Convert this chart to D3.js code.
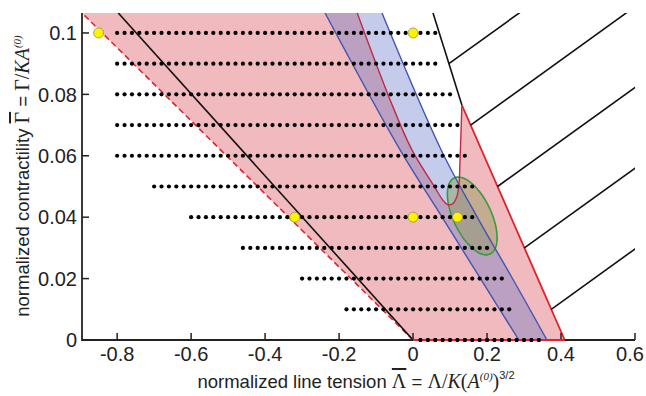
<!DOCTYPE html>
<html>
<head>
<meta charset="utf-8">
<script src="https://cdnjs.cloudflare.com/ajax/libs/d3/7.8.5/d3.min.js"></script>
<style>
body{margin:0;background:#fff;}
text{font-family:Arial,"Liberation Sans",sans-serif;fill:#222;}
.serif{font-family:"Liberation Serif","Times New Roman",serif;}
.bar{text-decoration:overline;}
</style>
</head>
<body>
<script>
// ---- data ----
var xTicks=[-0.8,-0.6,-0.4,-0.2,0,0.2,0.4,0.6];
var yTicks=[0,0.02,0.04,0.06,0.08,0.1];
var yTickLabels=['0','0.02','0.04','0.06','0.08','0.1'];

// sampled points on rows of constant contractility
var rowGamma=[0.1,0.09,0.08,0.07,0.06,0.05,0.04,0.03,0.02,0.01,0];
var rowStart=[-0.8,-0.8,-0.8,-0.8,-0.8,-0.7,-0.6,-0.46,-0.3,-0.18,0.02];
var rowEnd=[0.06,0.06,0.1,0.12,0.14,0.16,0.16,0.2,0.24,0.26,0.34];
var dotStep=0.02;

var yellowLambda=[-0.85,0,-0.32,0,0.12];
var yellowGamma=[0.1,0.1,0.04,0.04,0.04];

// lines through origin
var dashedLambda=[0,-0.895], dashedGamma=[0,0.1065];
var blackLambda=[0,-0.797], blackGamma=[0,0.1065];

// blue band edges
var blueLeftLambda=[-0.238,-0.035,0.078,0.181,0.286];
var blueLeftGamma=[0.1065,0.0619,0.0401,0.0202,0];
var blueRightLambda=[-0.084,0.076,0.173,0.268,0.362];
var blueRightGamma=[0.1065,0.0619,0.0401,0.0202,0];

// dark red curve (upper right edge of pink region)
var curveLambda=[-0.151,-0.062,-0.003,0.06,0.079,0.092,0.106,0.118,0.124,0.127,0.132];
var curveGamma=[0.1065,0.0782,0.0619,0.0495,0.0458,0.0442,0.0443,0.0466,0.0505,0.0586,0.0765];

// right boundary (black top part, red lower part)
var boundLambda=[0.054,0.132,0.41];
var boundGamma=[0.1065,0.0765,0];

// diagonal lines leaving the boundary
var hatchGamma=[0.09,0.07,0.05,0.03,0.01];
var hatchSlope=0.0868;

// ellipse: centre and semi-axis vectors (data units)
var ellCenter=[0.16,0.0404];
var ellMajor=[0.0486,-0.0124];
var ellMinor=[0.0465,0.00264];

// ---- layout ----
var W=646,H=396;
var x=d3.scaleLinear().domain([-0.895,0.6]).range([82,635]);
var y=d3.scaleLinear().domain([0,0.1065]).range([340,13]);

var svg=d3.select('body').append('svg').attr('width',W).attr('height',H);
svg.append('rect').attr('width',W).attr('height',H).attr('fill','#fff');
svg.append('clipPath').attr('id','clip').append('rect')
    .attr('x',x.range()[0]).attr('y',y.range()[1])
    .attr('width',x.range()[1]-x.range()[0]).attr('height',y.range()[0]-y.range()[1]);
var g=svg.append('g').attr('clip-path','url(#clip)');

function pts(L,G){return L.map(function(d,i){return [x(d),y(G[i])];});}
var lin=d3.line();
var smooth=d3.line().curve(d3.curveCatmullRom.alpha(0.5));

// pink region
var curvePath=smooth(pts(curveLambda,curveGamma));
var pinkPath='M'+x(dashedLambda[1])+','+y(dashedGamma[1])+
    curvePath.replace(/^M/,'L')+
    'L'+x(boundLambda[2])+','+y(boundGamma[2])+
    'L'+x(dashedLambda[0])+','+y(dashedGamma[0])+'Z';
g.append('path').attr('d',pinkPath).attr('fill','rgb(241,186,191)');

// blue band
var leftPath=smooth(pts(blueLeftLambda,blueLeftGamma));
var rightPts=pts(blueRightLambda,blueRightGamma).reverse();
var bandPath=leftPath+smooth(rightPts).replace(/^M/,'L')+'Z';
g.append('path').attr('d',bandPath).attr('fill','rgb(95,115,200)').attr('fill-opacity',0.36);

// ellipse
var ellPts=d3.range(0,361,5).map(function(a){
    var t=a*Math.PI/180;
    return [x(ellCenter[0]+Math.cos(t)*ellMajor[0]+Math.sin(t)*ellMinor[0]),
            y(ellCenter[1]+Math.cos(t)*ellMajor[1]+Math.sin(t)*ellMinor[1])];
});
g.append('path').attr('d',lin(ellPts)+'Z')
    .attr('fill','rgb(140,155,85)').attr('fill-opacity',0.45)
    .attr('stroke','#3a9a40').attr('stroke-width',1.6);

// band edges
g.append('path').attr('d',leftPath).attr('fill','none').attr('stroke','#4256b0').attr('stroke-width',1.4);
g.append('path').attr('d',smooth(pts(blueRightLambda,blueRightGamma))).attr('fill','none').attr('stroke','#4256b0').attr('stroke-width',1.4);

// dark red curve
g.append('path').attr('d',curvePath).attr('fill','none').attr('stroke','#c02a44').attr('stroke-width',1.4);

// right boundary
g.append('path').attr('d',lin(pts(boundLambda.slice(0,2),boundGamma.slice(0,2))))
    .attr('fill','none').attr('stroke','#111').attr('stroke-width',1.6);
g.append('path').attr('d',lin(pts(boundLambda.slice(1),boundGamma.slice(1))))
    .attr('fill','none').attr('stroke','#e0232b').attr('stroke-width',1.8);

// hatch lines
function boundaryLambda(gm){
    for(var i=0;i<boundGamma.length-1;i++){
        if(gm<=boundGamma[i]&&gm>=boundGamma[i+1]){
            var f=(gm-boundGamma[i])/(boundGamma[i+1]-boundGamma[i]);
            return boundLambda[i]+f*(boundLambda[i+1]-boundLambda[i]);
        }
    }
    return boundLambda[boundLambda.length-1];
}
hatchGamma.forEach(function(gm){
    var l0=boundaryLambda(gm), l1=x.domain()[1]+0.1;
    g.append('line')
        .attr('x1',x(l0)).attr('y1',y(gm))
        .attr('x2',x(l1)).attr('y2',y(gm+(l1-l0)*hatchSlope))
        .attr('stroke','#111').attr('stroke-width',1.6);
});

// dashed red line and black line
g.append('path').attr('d',lin(pts(dashedLambda,dashedGamma)))
    .attr('stroke','#e0232b').attr('stroke-width',1.6).attr('stroke-dasharray','6,3.5');
g.append('path').attr('d',lin(pts(blackLambda,blackGamma)))
    .attr('stroke','#111').attr('stroke-width',1.6);

// dots
var dots=[];
rowGamma.forEach(function(gm,i){
    var n=Math.round((rowEnd[i]-rowStart[i])/dotStep);
    for(var k=0;k<=n;k++) dots.push([rowStart[i]+k*dotStep,gm]);
});
svg.append('g').selectAll('circle').data(dots).enter().append('circle')
    .attr('cx',function(d){return x(d[0]);})
    .attr('cy',function(d){return y(d[1]);})
    .attr('r',2.1).attr('fill','#000');

// axes
var axG=svg.append('g');
axG.append('line').attr('x1',x.range()[0]).attr('x2',x.range()[1]).attr('y1',y(0)).attr('y2',y(0))
    .attr('stroke','#222').attr('stroke-width',1.8);
axG.append('line').attr('x1',x.range()[0]).attr('x2',x.range()[0]).attr('y1',y.range()[0]+1).attr('y2',y.range()[1])
    .attr('stroke','#222').attr('stroke-width',1.8);
axG.selectAll('.xt').data(xTicks).enter().append('line')
    .attr('x1',function(d){return x(d);}).attr('x2',function(d){return x(d);})
    .attr('y1',y(0)).attr('y2',y(0)-7).attr('stroke','#222').attr('stroke-width',1.5);
axG.selectAll('.yt').data(yTicks).enter().append('line')
    .attr('y1',function(d){return y(d);}).attr('y2',function(d){return y(d);})
    .attr('x1',x.range()[0]).attr('x2',x.range()[0]+7).attr('stroke','#222').attr('stroke-width',1.5);
axG.selectAll('.xl').data(xTicks).enter().append('text')
    .attr('x',function(d){return Math.min(x(d),W-16);}).attr('y',361)
    .attr('text-anchor','middle').style('font-size','20px')
    .text(function(d){return d===0?'0':d3.format('.1f')(d).replace('\u2212','-');});
axG.selectAll('.yl').data(yTicks).enter().append('text')
    .attr('x',77).attr('y',function(d){return y(d);}).attr('dy','0.36em')
    .attr('text-anchor','end').style('font-size','20px')
    .text(function(d,i){return yTickLabels[i];});

// red bottom edge of pink region over the axis
svg.append('line').attr('x1',x(dashedLambda[0])).attr('x2',x(boundLambda[2]))
    .attr('y1',y(0)).attr('y2',y(0)).attr('stroke','#e0232b').attr('stroke-width',1.8);
svg.selectAll('.bd').data(dots.filter(function(d){return d[1]===0;})).enter().append('circle')
    .attr('cx',function(d){return x(d[0]);}).attr('cy',y(0)).attr('r',2.1).attr('fill','#000');

// yellow points
svg.append('g').selectAll('circle').data(yellowLambda).enter().append('circle')
    .attr('cx',function(d){return x(d);})
    .attr('cy',function(d,i){return y(yellowGamma[i]);})
    .attr('r',5).attr('fill','#fff200').attr('stroke','#9a9040').attr('stroke-width',0.8);

// axis titles
var xt=svg.append('text').attr('x',356).attr('y',388).attr('text-anchor','middle').style('font-size','18.5px');
xt.append('tspan').text('normalized line tension ');
xt.append('tspan').attr('class','serif bar').style('font-size','20px').text('\u039B');
xt.append('tspan').text(' = ');
xt.append('tspan').attr('class','serif').style('font-size','20px').text('\u039B/');
xt.append('tspan').attr('class','serif').style('font-size','20px').style('font-style','italic').text('K');
xt.append('tspan').attr('class','serif').style('font-size','20px').text('(');
xt.append('tspan').attr('class','serif').style('font-size','20px').style('font-style','italic').text('A');
xt.append('tspan').attr('class','serif').style('font-style','italic').style('font-size','11px').attr('dy',-8).text('(0)');
xt.append('tspan').attr('class','serif').style('font-size','20px').attr('dy',8).text(')');
xt.append('tspan').style('font-size','11px').attr('dy',-9).text('3/2');

var yt=svg.append('text').attr('transform','translate(29,176) rotate(-90)').attr('text-anchor','middle').style('font-size','18.5px');
yt.append('tspan').text('normalized contractility ');
yt.append('tspan').attr('class','serif bar').style('font-size','20px').text('\u0393');
yt.append('tspan').text(' = ');
yt.append('tspan').attr('class','serif').style('font-size','20px').text('\u0393/');
yt.append('tspan').attr('class','serif').style('font-size','20px').style('font-style','italic').text('KA');
yt.append('tspan').attr('class','serif').style('font-style','italic').style('font-size','11px').attr('dy',-8).text('(0)');
</script>
</body>
</html>
